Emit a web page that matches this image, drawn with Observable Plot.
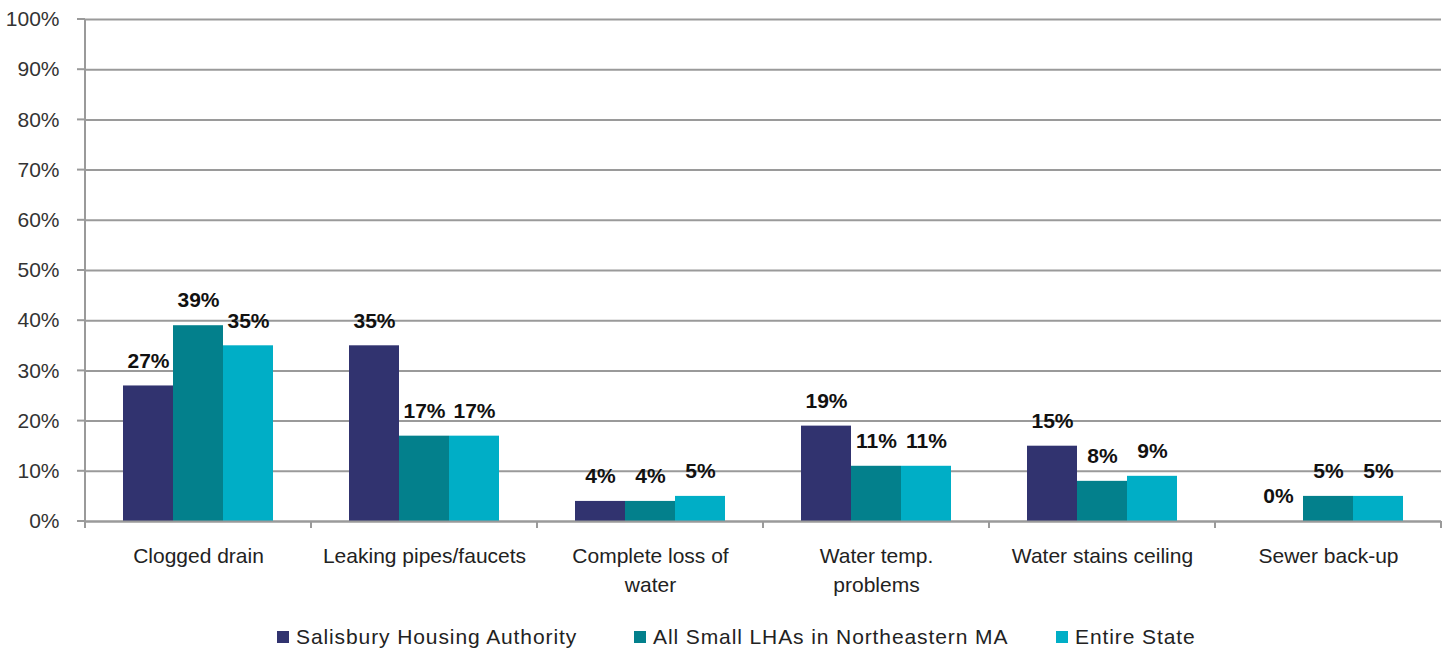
<!DOCTYPE html>
<html>
<head>
<meta charset="utf-8">
<script src="https://cdn.jsdelivr.net/npm/d3@7"></script>
<script src="https://cdn.jsdelivr.net/npm/@observablehq/plot@0.6"></script>
<style>
  body { margin: 0; background: #fff; font-family: "Liberation Sans", Arial, sans-serif; }
  #legend { position: relative; height: 44px; width: 1453px; font-size: 21px; color: #222; letter-spacing: 0.9px; }
  .li { position: absolute; top: 20px; display: flex; align-items: center; white-space: nowrap; }
  .sw { width: 12px; height: 12px; margin-right: 7px; display: inline-block; }
</style>
</head>
<body>
<div id="chart"></div>
<div id="legend"></div>
<script>
const categories = ["Clogged drain", "Leaking pipes/faucets", "Complete loss of\nwater", "Water temp.\nproblems", "Water stains ceiling", "Sewer back-up"];
const series = ["Salisbury Housing Authority", "All Small LHAs in Northeastern MA", "Entire State"];
const colors = ["#31336f", "#03808c", "#00aec6"];
const salisbury = [0.27, 0.35, 0.04, 0.19, 0.15, 0.00];
const smallLHAs = [0.39, 0.17, 0.04, 0.11, 0.08, 0.05];
const entireState = [0.35, 0.17, 0.05, 0.11, 0.09, 0.05];
const yTicks = [0, 0.1, 0.2, 0.3, 0.4, 0.5, 0.6, 0.7, 0.8, 0.9, 1.0];

const valuesBySeries = [salisbury, smallLHAs, entireState];
const data = [];
categories.forEach((c, i) => series.forEach((s, j) => data.push({cat: c, series: s, value: valuesBySeries[j][i]})));

const pct = d3.format(".0%");
const W = 1453, H = 605;

const plot = Plot.plot({
  width: W, height: H,
  marginLeft: 84, marginRight: 11, marginTop: 19, marginBottom: 84,
  style: {fontFamily: "Liberation Sans, Arial, sans-serif", fontSize: "21px", color: "#333", background: "#fff"},
  fx: {domain: categories, padding: 0, label: null, axis: null},
  x: {domain: series, paddingInner: 0, paddingOuter: 0.76, axis: null},
  y: {domain: [0, 1], ticks: yTicks, tickFormat: pct, label: null, tickSize: 0, tickPadding: 26},
  color: {domain: series, range: colors},
  marks: [
    Plot.gridY(yTicks, {stroke: "#9a9a9a", strokeOpacity: 1, strokeWidth: 2}),
    Plot.barY(data, {fx: "cat", x: "series", y: "value", fill: "series"}),
    Plot.ruleY([0], {stroke: "#9a9a9a", strokeWidth: 2}),
    Plot.text(data, {fx: "cat", x: "series", y: "value", text: d => pct(d.value), dy: -25, lineAnchor: "middle", fontWeight: "bold", fontSize: 21, fill: "#111"}),
    Plot.axisFx({anchor: "bottom", label: null, tickSize: 0, tickPadding: 21, lineHeight: 1.38, fontSize: 21, fill: "#222"})
  ]
});

document.getElementById("chart").appendChild(plot);

// axis lines & tick marks drawn from the plot's own scales
const svg = d3.select(plot);
const fx = plot.scale("fx"), y = plot.scale("y");
const y0 = y.apply(0), y1 = y.apply(1);
const left = fx.apply(categories[0]);
const g = svg.append("g").attr("stroke", "#9a9a9a").attr("stroke-width", 2);
yTicks.forEach(t => g.append("line").attr("x1", left - 8).attr("x2", left).attr("y1", y.apply(t)).attr("y2", y.apply(t)));
g.append("line").attr("x1", left).attr("x2", left).attr("y1", y1).attr("y2", y0 + 7);
const bounds = categories.map(c => fx.apply(c));
bounds.push(fx.apply(categories[categories.length - 1]) + fx.bandwidth);
bounds.forEach(b => g.append("line").attr("x1", b).attr("x2", b).attr("y1", y0).attr("y2", y0 + 7));

// legend
const legendPos = [277, 634, 1056];
const legend = document.getElementById("legend");
series.forEach((s, i) => {
  const item = document.createElement("div");
  item.className = "li";
  item.style.left = legendPos[i] + "px";
  item.innerHTML = `<span class="sw" style="background:${colors[i]}"></span><span>${s}</span>`;
  legend.appendChild(item);
});
</script>
</body>
</html>
